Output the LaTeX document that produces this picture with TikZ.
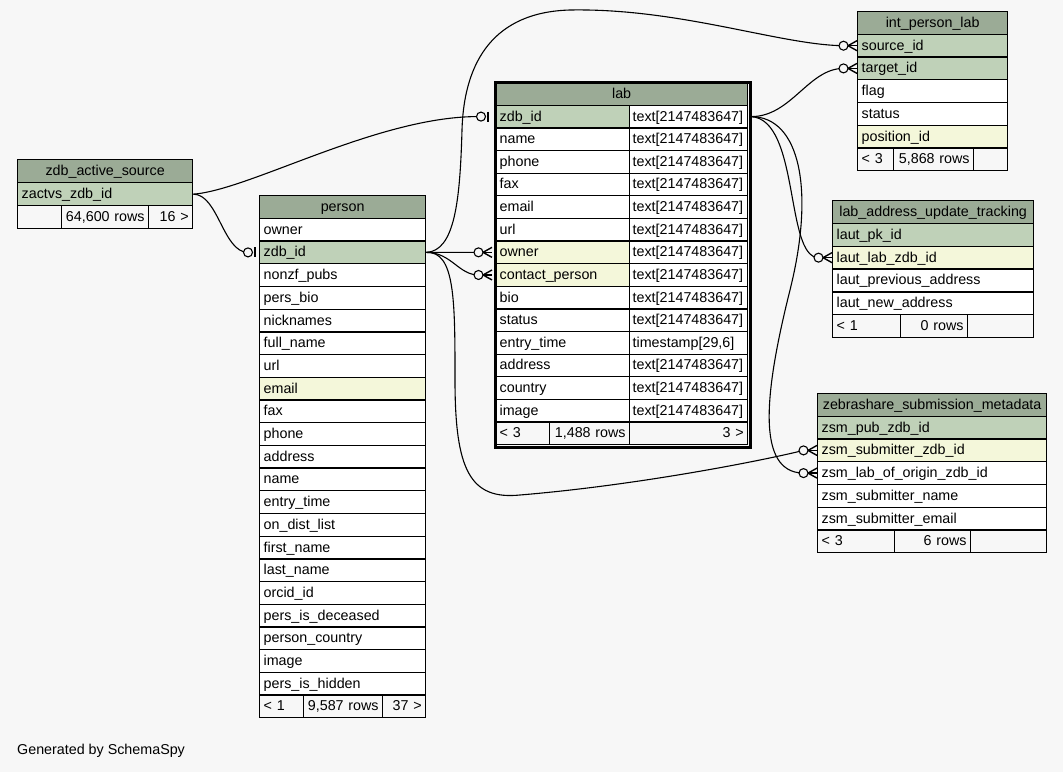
\documentclass[tikz,border=0pt]{standalone}
\usepackage{fontspec}
\setmainfont{Liberation Sans}
\usetikzlibrary{calc}
\definecolor{bgc}{HTML}{F7F7F7}
\definecolor{hdr}{HTML}{9BAB96}
\definecolor{pk}{HTML}{BFD1B8}
\definecolor{fk}{HTML}{F4F7DA}
\definecolor{ftr}{HTML}{F7F7F7}
\newcommand\crowmark[1]{%
  \draw[edge, line width=1.4pt] ($(#1)+(-9,0)$) -- ($(#1)+(0,-5)$);
  \draw[edge, line width=1.4pt] ($(#1)+(-9,0)$) -- (#1);
  \draw[edge, line width=1.4pt] ($(#1)+(-9,0)$) -- ($(#1)+(0,5)$);
  \draw[edge, fill=bgc] ($(#1)+(-13.5,0)$) circle[radius=4.5];}
\newcommand\onemark[1]{%
  \draw[line width=2.5pt] ($(#1)+(-4,-5)$) -- ($(#1)+(-4,5)$);
  \draw[edge, fill=bgc] ($(#1)+(-11,0)$) circle[radius=4.5];}
\begin{document}
\begin{tikzpicture}[x=1pt,y=-1pt,
  cell/.style={draw=black, line width=1.3pt, inner xsep=4pt, inner ysep=0pt,
    anchor=north west, font=\fontsize{14.3}{16}\selectfont,
    text height=12.5pt, text depth=3.5pt},
  edge/.style={draw=black, line width=1.1pt},
  zw/.style={cell, text width=167pt, minimum height=23pt},
  pw/.style={cell, text width=158pt, minimum height=22.7pt},
  lw/.style={cell, text width=126pt, minimum height=22.625pt},
  tw/.style={cell, inner xsep=3pt, text width=112pt, minimum height=22.625pt},
  iw/.style={cell, text width=142pt, minimum height=22.7pt},
  aw/.style={cell, text width=193pt, minimum height=22.8pt},
  sw/.style={cell, text width=221pt, minimum height=22.7pt},
  ft/.style={cell, fill=ftr}]
\fill[bgc] (0,0) rectangle (1063,772);
\useasboundingbox (0,0) rectangle (1063,772);

% zdb_active_source
\node[zw, fill=hdr, align=center] (zh) at (17,159) {zdb\_active\_source};
\node[zw, fill=pk, align=left] (zr) at (17,182) {zactvs\_zdb\_id};
\node[ft, text width=36pt, minimum height=23pt, align=left] (zf1) at (17,205) {};
\node[ft, text width=79pt, minimum height=23pt, align=right] (zf2) at (61,205) {64,600 rows};
\node[ft, text width=36pt, minimum height=23pt, align=right] (zf3) at (148,205) {16 >};

% person
\node[pw, fill=hdr, align=center] (ph) at (259,195) {person};
\foreach \t/\c [count=\i] in {owner/white, zdb\_id/pk, nonzf\_pubs/white, pers\_bio/white,
  nicknames/white, full\_name/white, url/white, email/fk, fax/white, phone/white,
  address/white, name/white, entry\_time/white, on\_dist\_list/white, first\_name/white,
  last\_name/white, orcid\_id/white, pers\_is\_deceased/white, person\_country/white,
  image/white, pers\_is\_hidden/white}
  \node[pw, fill=\c, align=left] (p\i) at (259,{195+\i*22.7}) {\t};
\node[ft, text width=36pt, minimum height=22.7pt, align=left] (pf1) at (259,694.4) {< 1};
\node[ft, text width=71pt, minimum height=22.7pt, align=right] (pf2) at (303,694.4) {9,587 rows};
\node[ft, text width=35pt, minimum height=22.7pt, align=right] (pf3) at (382,694.4) {37 >};

% lab
\node[cell, fill=hdr, align=center, text width=244pt, minimum height=22.625pt] (lh) at (495,82) {lab};
\foreach \n/\t/\c [count=\i] in {zdb\_id/text[2147483647]/pk, name/text[2147483647]/white,
  phone/text[2147483647]/white, fax/text[2147483647]/white, email/text[2147483647]/white,
  url/text[2147483647]/white, owner/text[2147483647]/fk, contact\_person/text[2147483647]/fk,
  bio/text[2147483647]/white, status/text[2147483647]/white, entry\_time/{timestamp[29,6]}/white,
  address/text[2147483647]/white, country/text[2147483647]/white, image/text[2147483647]/white}
  {\node[lw, fill=\c, align=left] (lr\i) at (495,{82+\i*22.625}) {\n};
   \node[tw, fill=white, align=left] (lt\i) at (629,{82+\i*22.625}) {\t};}
\node[ft, text width=46pt, minimum height=22.625pt, align=left] (lf1) at (495,421.4) {< 3};
\node[ft, text width=72pt, minimum height=22.625pt, align=right] (lf2) at (549,421.4) {1,488 rows};
\node[ft, text width=110pt, minimum height=22.625pt, align=right] (lf3) at (629,421.4) {3 >};
\node[draw, line width=3pt, minimum width=255pt, minimum height=365pt, anchor=north west, inner sep=0pt] (lab) at (493.5,80.5) {};

% int_person_lab
\node[iw, fill=hdr, align=center] (ih) at (857,11) {int\_person\_lab};
\foreach \t/\c [count=\i] in {source\_id/pk, target\_id/pk, flag/white, status/white, position\_id/fk}
  \node[iw, fill=\c, align=left] (i\i) at (857,{11+\i*22.7}) {\t};
\node[ft, text width=28pt, minimum height=22.7pt, align=left] (if1) at (857,147.2) {< 3};
\node[ft, text width=72pt, minimum height=22.7pt, align=right] (if2) at (893,147.2) {5,868 rows};
\node[ft, text width=26pt, minimum height=22.7pt, align=right] (if3) at (973,147.2) {};

% lab_address_update_tracking
\node[aw, fill=hdr, align=center] (ah) at (832,200) {lab\_address\_update\_tracking};
\foreach \t/\c [count=\i] in {laut\_pk\_id/pk, laut\_lab\_zdb\_id/fk, laut\_previous\_address/white, laut\_new\_address/white}
  \node[aw, fill=\c, align=left] (a\i) at (832,{200+\i*22.8}) {\t};
\node[ft, text width=60pt, minimum height=22.8pt, align=left] (af1) at (832,314) {< 1};
\node[ft, text width=59pt, minimum height=22.8pt, align=right] (af2) at (900,314) {0 rows};
\node[ft, text width=58pt, minimum height=22.8pt, align=right] (af3) at (967,314) {};

% zebrashare_submission_metadata
\node[sw, fill=hdr, align=center] (sh) at (817,393) {zebrashare\_submission\_metadata};
\foreach \t/\c [count=\i] in {zsm\_pub\_zdb\_id/pk, zsm\_submitter\_zdb\_id/fk, zsm\_lab\_of\_origin\_zdb\_id/white,
  zsm\_submitter\_name/white, zsm\_submitter\_email/white}
  \node[sw, fill=\c, align=left] (s\i) at (817,{393+\i*22.7}) {\t};
\node[ft, text width=69pt, minimum height=22.7pt, align=left] (sf1) at (817,529.2) {< 3};
\node[ft, text width=68pt, minimum height=22.7pt, align=right] (sf2) at (894,529.2) {6 rows};
\node[ft, text width=68pt, minimum height=22.7pt, align=right] (sf3) at (970,529.2) {};

% marker points
\coordinate (mLabZ) at ($(lr1.west)+(-3,0)$);
\coordinate (mLabR) at ($(lt1.east)+(3,0)$);
\coordinate (mOwn) at ($(lr7.west)+(-3,0)$);
\coordinate (mCon) at ($(lr8.west)+(-3,0)$);

% edges
\draw[edge] (zr.east) .. controls +(25,0) and +(-25,0) .. ($(p2.west)+(-11,0)$);
\draw[edge] (zr.east) .. controls (250,190) and (380,115) .. ($(mLabZ)+(-11,0)$);
\draw[edge] (mLabR) .. controls +(40,0) and +(-35,0) .. ($(i2.west)+(-13.5,0)$);
\draw[edge] (mLabR) .. controls (800,120) and (785,257.4) .. ($(a2.west)+(-13.5,0)$);
\draw[edge] (mLabR) .. controls (800,117) and (815,190) .. (790,290)
  .. controls (765,390) and (755,472.5) .. ($(s3.west)+(-13.5,0)$);
\draw[edge] (p2.east) .. controls (455,251) and (460,200) .. (462,130)
  .. controls (464,60) and (495,12) .. (570,10)
  .. controls (680,8) and (780,45) .. ($(i1.west)+(-13.5,0)$);
\draw[edge] (p2.east) -- ($(mOwn)+(-13.5,0)$);
\draw[edge] (p2.east) .. controls +(25,0) and +(-20,0) .. ($(mCon)+(-13.5,0)$);
\draw[edge] (p2.east) .. controls (455,251) and (455,300) .. (455,380)
  .. controls (455,470) and (470,500) .. (520,495)
  .. controls (640,485) and (765,460) .. ($(s2.west)+(-13.5,0)$);

% markers
\onemark{p2.west}
\onemark{mLabZ}
\crowmark{mOwn}
\crowmark{mCon}
\crowmark{i1.west}
\crowmark{i2.west}
\crowmark{a2.west}
\crowmark{s2.west}
\crowmark{s3.west}

\node[anchor=west, inner sep=0pt, font=\fontsize{14.3}{16}\selectfont] (gen) at (17,751) {Generated by SchemaSpy};
\end{tikzpicture}
\end{document}
